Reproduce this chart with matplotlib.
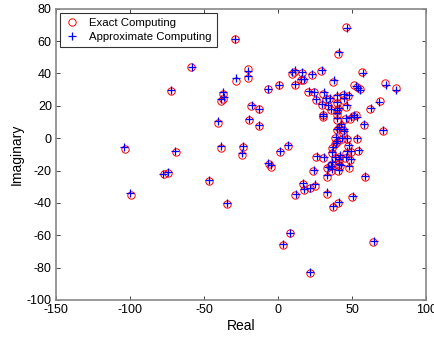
import matplotlib
matplotlib.use("Agg")
import matplotlib.pyplot as plt

plt.rcParams['font.family'] = ['Liberation Sans', 'DejaVu Sans']
plt.rcParams['axes.unicode_minus'] = False

# exact computing results (real, imaginary)
exact_re = [-103.6, -99.3, -77.3, -74.5, -72.1, -69.1, -58.6, -46.8, -40.8, -38.7,
            -37.0, -37.4, -38.7, -34.7, -29.0, -28.4, -23.9, -24.3, -20.2, -20.2,
            -18.0, -19.5, -13.0, -13.0, -6.8, -6.3, -4.9, 0.7, 1.3, 6.5,
            3.6, 8.1, 9.2, 10.8, 11.7, 11.5, 15.3, 16.4, 17.1, 16.7,
            17.6, 20.3, 21.2, 21.6, 22.8, 23.9, 24.3, 24.8, 25.7, 25.5,
            29.3, 29.5, 30.6, 30.4, 30.4, 30.6, 32.2, 32.9, 32.9, 33.6,
            34.7, 35.6, 35.1, 36.3, 36.3, 36.5, 37.0, 37.3, 38.5, 38.5,
            38.5, 39.7, 39.7, 40.7, 39.7, 39.7, 39.7, 39.7, 39.7, 40.3,
            40.5, 40.7, 40.7, 41.4, 41.0, 42.5, 41.0, 44.1, 43.0, 44.1,
            44.1, 44.1, 45.3, 45.9, 45.9, 45.9, 45.3, 46.4, 47.5, 47.5,
            47.9, 48.7, 48.7, 49.1, 50.2, 50.9, 51.4, 52.7, 53.2, 53.2,
            54.0, 55.0, 56.8, 57.7, 58.8, 62.2, 64.4, 68.5, 70.6, 72.2,
            79.5, 33.3, 36.0, 42.0]
exact_im = [-6.8, -34.9, -22.3, -21.6, 29.1, -8.5, 43.7, -26.4, 9.5, 22.7,
            24.3, 27.4, -5.8, -40.6, 61.4, 35.5, -5.4, -10.1, 42.7, 36.9,
            19.6, 11.0, 18.0, 7.8, 30.5, -15.9, -17.9, 32.6, -8.6, -4.7,
            -66.0, -58.8, 39.8, 41.0, 32.6, -35.3, 36.1, 40.2, 36.1, -28.4,
            -32.0, 28.5, -31.0, -83.5, 39.0, -20.4, 28.5, -29.3, -11.4, 23.5,
            41.8, 20.8, 27.4, 14.4, 13.0, -12.2, 24.1, -23.7, -34.4, 19.6,
            24.1, 17.5, -17.5, -15.9, -9.3, -6.0, -42.6, 34.6, 0.0, -3.5,
            -12.4, 25.4, 21.5, 17.8, 16.7, 11.3, 14.4, 5.1, -2.3, 52.2,
            -39.8, -16.5, -20.0, -11.4, -13.4, 7.8, 6.2, 3.5, -0.6, 26.7,
            23.9, 5.1, 11.8, 68.7, 19.4, -9.0, -12.4, -0.4, 25.8, -4.7,
            -18.2, -13.8, 12.0, -8.3, -36.4, 13.8, 32.8, 14.1, 31.9, -0.8,
            -8.0, 30.5, 41.2, 8.2, -24.1, 18.0, -64.1, 23.0, 4.6, 34.0,
            30.9, -18.4, -20.0, -17.1]

# approximate computing results
approx_re = [-104.2, -100.0, -77.6, -74.2, -72.0, -69.3, -58.4, -47.0, -40.9, -38.5,
             -36.8, -37.0, -38.6, -34.8, -29.1, -28.5, -23.8, -24.2, -20.0, -20.3,
             -17.8, -19.4, -13.2, -13.0, -7.0, -6.5, -5.0, 0.6, 1.3, 6.8,
             3.5, 8.3, 9.6, 11.2, 11.6, 11.8, 15.6, 16.4, 17.4, 16.9,
             17.5, 20.6, 21.4, 21.5, 22.9, 24.2, 24.1, 25.0, 26.0, 25.6,
             29.8, 29.6, 31.0, 30.6, 30.5, 30.9, 32.5, 33.0, 33.2, 33.9,
             35.0, 35.9, 35.4, 36.6, 36.5, 36.9, 37.3, 37.5, 38.8, 38.9,
             38.7, 40.1, 40.0, 41.0, 39.9, 40.0, 40.1, 39.9, 40.0, 41.0,
             40.8, 41.0, 41.1, 41.6, 41.3, 42.8, 41.2, 44.3, 43.3, 44.4,
             44.2, 44.5, 45.6, 46.4, 46.2, 46.2, 45.6, 46.6, 47.9, 47.8,
             48.2, 49.0, 49.0, 49.4, 50.5, 51.2, 52.3, 53.5, 54.0, 53.5,
             54.3, 55.4, 57.5, 57.9, 58.8, 62.4, 64.6, 68.4, 70.7, 72.8,
             79.9, 33.6, 36.3, 42.3]
approx_im = [-5.6, -33.6, -21.9, -20.8, 29.9, -7.8, 44.0, -25.9, 10.6, 24.0,
             25.4, 28.6, -4.9, -39.9, 61.5, 37.0, -4.8, -9.3, 41.3, 38.7,
             20.2, 12.1, 17.9, 8.3, 30.6, -15.3, -16.8, 32.7, -8.2, -4.2,
             -65.4, -58.5, 41.2, 41.9, 33.3, -34.6, 36.5, 41.2, 36.4, -27.9,
             -31.3, 28.9, -30.7, -82.8, 39.5, -19.6, 28.5, -28.6, -11.0, 24.3,
             42.0, 21.4, 28.3, 15.0, 13.5, -11.7, 24.9, -22.9, -33.5, 20.5,
             24.8, 18.3, -16.9, -15.0, -8.7, -5.3, -42.0, 35.7, 0.9, -3.0,
             -11.9, 26.4, 22.3, 18.6, 17.5, 12.2, 15.3, 5.9, -1.5, 53.0,
             -39.2, -15.8, -19.4, -10.7, -12.7, 8.7, 6.9, 4.2, 0.1, 27.4,
             24.8, 5.8, 12.6, 68.2, 20.3, -8.2, -11.6, 0.4, 26.5, -4.0,
             -17.5, -13.1, 12.8, -7.7, -35.6, 14.5, 32.0, 13.0, 31.0, -0.2,
             -7.3, 29.9, 40.1, 8.9, -23.3, 18.7, -63.6, 22.2, 5.3, 33.0,
             29.6, -17.6, -19.3, -16.4]

x_ticks = [-150, -100, -50, 0, 50, 100]
y_ticks = [-100, -80, -60, -40, -20, 0, 20, 40, 60, 80]

fig = plt.figure(figsize=(4.34, 3.37), dpi=100)
ax = fig.add_axes([0.129, 0.110, 0.853, 0.864])

ax.plot(exact_re, exact_im, 'o', color='none', markeredgecolor='red',
        markersize=5.3, markeredgewidth=0.7, label='Exact Computing')
ax.plot(approx_re, approx_im, '+', color='blue',
        markersize=6, markeredgewidth=0.9, label='Approximate Computing')

ax.set_xlim(-150, 100)
ax.set_ylim(-100, 80)
ax.set_xticks(x_ticks)
ax.set_yticks(y_ticks)
ax.tick_params(direction='in', top=True, right=True, labelsize=9,
               length=3, width=0.6, color='#262626', pad=3)
for s in ax.spines.values():
    s.set_color('#888888')
    s.set_linewidth(1.2)
ax.set_xlabel('Real', fontsize=10, labelpad=2)
ax.set_ylabel('Imaginary', fontsize=10, labelpad=2)

leg = ax.legend(loc='upper left', fontsize=8.2, frameon=True, fancybox=False,
                edgecolor='black', borderpad=0.45, labelspacing=0.35,
                handlelength=1.2, handletextpad=0.9, borderaxespad=0.35)
leg.get_frame().set_linewidth(0.8)

fig.savefig('out.png', dpi=100)
